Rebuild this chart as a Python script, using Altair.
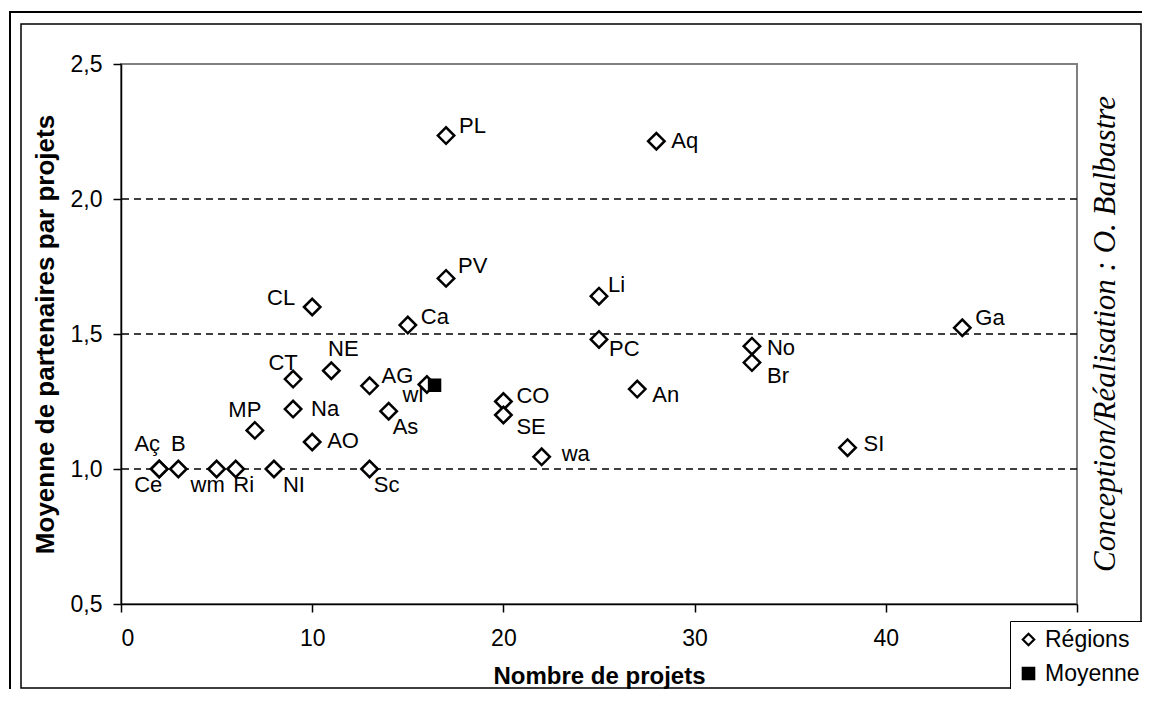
import altair as alt
import pandas as pd

# ---------------- data ----------------
regions = ["Aç", "Ce", "B", "wm", "Ri", "NI", "Sc", "MP", "Na", "CT",
           "AO", "NE", "AG", "As", "wl", "CL", "Ca", "PV", "PL", "Aq",
           "Li", "PC", "CO", "SE", "wa", "An", "No", "Br", "SI", "Ga"]
projets = [2, 2, 3, 5, 6, 8, 13, 7, 9, 9,
           10, 11, 13, 14, 16, 10, 15, 17, 17, 28,
           25, 25, 20, 20, 22, 27, 33, 33, 38, 44]
partenaires = [1.0, 1.0, 1.0, 1.0, 1.0, 1.0, 1.0, 1.143, 1.222, 1.333,
               1.1, 1.364, 1.308, 1.214, 1.313, 1.6, 1.533, 1.706, 2.235, 2.214,
               1.64, 1.48, 1.25, 1.2, 1.045, 1.296, 1.455, 1.394, 1.079, 1.523]
moyenne_x = [16.4]
moyenne_y = [1.31]
series = ["Régions", "Moyenne"]
x_ticks = [0, 10, 20, 30, 40, 50]
y_ticks = [0.5, 1.0, 1.5, 2.0, 2.5]
grid_vals = [1.0, 1.5, 2.0]
credit = "Conception/Réalisation : O. Balbastre"

# label placement (align, dx, dy) in pixels, a style choice per label
placement = {
    "PL": ("left", 13, -10), "Aq": ("left", 15, 0), "PV": ("left", 12, -12),
    "Li": ("left", 9, -11), "PC": ("left", 10, 10), "An": ("left", 15, 6),
    "CO": ("left", 13, -6), "SE": ("left", 13, 12), "wa": ("left", 20, -3),
    "No": ("left", 15, 2), "Br": ("left", 15, 13), "Ga": ("left", 13, -10),
    "SI": ("left", 16, -4), "CL": ("right", -17, -9), "Ca": ("left", 13, -8),
    "CT": ("center", -10, -16), "NE": ("center", 12, -22), "AG": ("left", 12, -10),
    "As": ("left", 4, 16), "wl": ("center", -14, 11), "Na": ("left", 18, 0),
    "MP": ("center", -10, -20), "AO": ("left", 15, -1), "Aç": ("center", -12, -25),
    "B": ("center", 0, -25), "Ce": ("center", -11, 16), "wm": ("center", -9, 16),
    "Ri": ("center", 8, 16), "NI": ("center", 20, 16), "Sc": ("center", 17, 16),
}

reg_df = pd.DataFrame({"name": regions, "projets": projets, "part": partenaires,
                       "serie": ["Régions"] * len(regions)})
moy_df = pd.DataFrame({"name": ["Moyenne"], "projets": moyenne_x, "part": moyenne_y,
                       "serie": ["Moyenne"]})
grid_df = pd.DataFrame({"g": grid_vals})
one = pd.DataFrame({"k": [0]})

FONT = "Liberation Sans"
W, H = 956, 540

xscale = alt.Scale(domain=[0, 50], nice=False, zero=False)
yscale = alt.Scale(domain=[0.5, 2.5], nice=False, zero=False)

X = alt.X("projets:Q", scale=xscale, title="Nombre de projets",
          axis=alt.Axis(values=x_ticks, grid=False,
                        labelExpr="datum.value == 50 ? '' : datum.label",
                        labelPadding=15, titlePadding=14, titleFontSize=24))
Y = alt.Y("part:Q", scale=yscale, title="Moyenne de partenaires par projets",
          axis=alt.Axis(values=y_ticks, grid=False,
                        labelExpr="replace(format(datum.value, '.1f'), '.', ',')",
                        labelPadding=11, titlePadding=12, titleFontSize=26))

# frames
outer = alt.Chart(one).mark_rect(fill="white", fillOpacity=0, stroke="black", strokeWidth=2).encode(
    x=alt.value(-111), x2=alt.value(1040), y=alt.value(-52), y2=alt.value(640))
inner = alt.Chart(one).mark_rect(fill="white", fillOpacity=0, stroke="black", strokeWidth=1.5).encode(
    x=alt.value(-100), x2=alt.value(1020), y=alt.value(-40), y2=alt.value(624))

grid = alt.Chart(grid_df).mark_rule(color="black", strokeWidth=1.3, strokeDash=[7, 5]).encode(
    y=alt.Y("g:Q", scale=yscale))

leg = alt.Legend(title=None, orient="none", legendX=889, legendY=557, direction="vertical",
                 fillColor="white", strokeColor="black", padding=7,
                 labelFont=FONT, labelFontSize=23, labelColor="black", labelOffset=5,
                 symbolSize=130, symbolStrokeColor="black", symbolStrokeWidth=2.2,
                 rowPadding=10, zindex=5)
shape_enc = alt.Shape("serie:N", scale=alt.Scale(domain=series, range=["diamond", "square"]), legend=leg)
fill_enc = alt.Fill("serie:N", scale=alt.Scale(domain=series, range=["white", "black"]), legend=leg)
stroke_enc = alt.Stroke("serie:N", scale=alt.Scale(domain=series, range=["black", "black"]), legend=leg)

pts_reg = alt.Chart(reg_df).mark_point(filled=True, strokeWidth=2.5,
                                       opacity=1, size=270).encode(
    x=X, y=Y, shape=shape_enc, fill=fill_enc, stroke=stroke_enc)
pts_moy = alt.Chart(moy_df).mark_point(filled=True, strokeWidth=2.5,
                                       opacity=1, size=120).encode(
    x=X, y=Y, shape=shape_enc, fill=fill_enc, stroke=stroke_enc)

labels = []
for n in regions:
    a, dx, dy = placement[n]
    labels.append(
        alt.Chart(reg_df).transform_filter(alt.datum.name == n).mark_text(
            align=a, baseline="middle", dx=dx, dy=dy, fontSize=22, font=FONT, color="black"
        ).encode(x=alt.X("projets:Q", scale=xscale), y=alt.Y("part:Q", scale=yscale), text="name:N")
    )

credit_txt = alt.Chart(one).mark_text(
    angle=270, font="Liberation Serif", fontStyle="italic", fontSize=31,
    align="center", baseline="middle", color="black"
).encode(x=alt.value(985), y=alt.value(270), text=alt.value(credit))

chart = alt.layer(outer, inner, grid, pts_reg, pts_moy, *labels, credit_txt).properties(
    width=W, height=H,
    autosize=alt.AutoSizeParams(type="none"),
    padding={"left": 113, "top": 56, "right": 65, "bottom": 85},
).configure_view(
    stroke="#808080", strokeWidth=2
).configure_axis(
    labelFont=FONT, titleFont=FONT, labelFontSize=23,
    titleFontWeight="bold", labelColor="black", titleColor="black",
    domainColor="black", domainWidth=1.5, tickColor="black", tickWidth=1.5, tickSize=8,
)

chart.save("out.html", embed_options={"renderer": "svg", "actions": False})
